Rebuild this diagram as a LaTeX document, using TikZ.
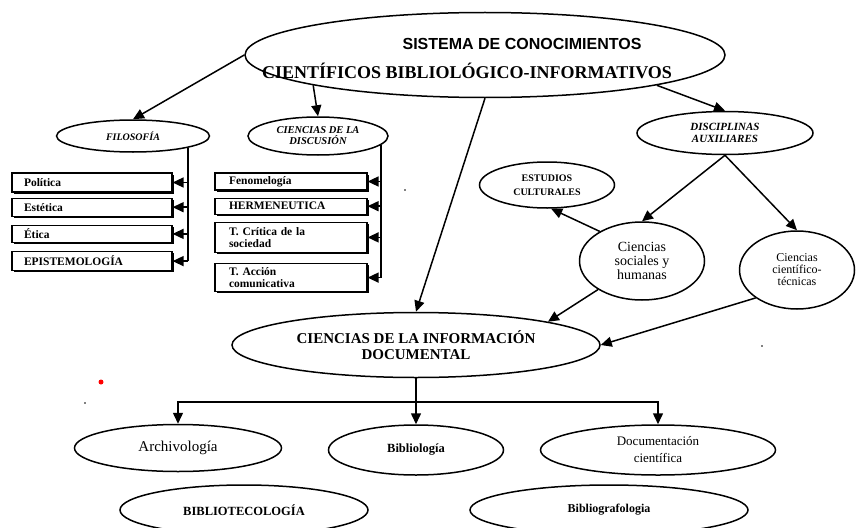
\documentclass[tikz,border=0pt]{standalone}
\usepackage{fontspec}
\setmainfont{Liberation Serif}
\setsansfont{Liberation Sans}
\usetikzlibrary{arrows.meta, shapes.geometric, positioning, shadows}
\tikzset{%
  >={Triangle[width=10pt,length=11pt]},
  % Specifications for style of nodes:
        oval/.style = {ellipse, draw=black, line width=1.5pt,
                           inner sep=0pt, align=center},
        box/.style = {rectangle, draw=black, line width=1.2pt, fill=white,
                           align=left, inner ysep=0pt, minimum height=18pt,
                           font=\fontsize{11.5}{12}\selectfont\bfseries,
                           drop shadow={shadow xshift=1.5pt, shadow yshift=-1.5pt,
                                        opacity=1, fill=black}},
        lbox/.style = {box, inner xsep=12pt, text width=136pt},
        mbox/.style = {box, inner xsep=14pt, text width=124pt},
        title/.style = {inner sep=0pt}
}
\newcommand{\sociales}{Ciencias\\sociales y\\humanas}
\newcommand{\tecnicas}{Ciencias\\científico-\\técnicas}
\newcommand{\informacion}{CIENCIAS DE LA INFORMACIÓN\\DOCUMENTAL}

\begin{document}
\begin{tikzpicture}[x=1pt, y=-1pt, line width=1.5pt, node distance=6pt]
  \useasboundingbox (0,0) rectangle (856,527);
  % Specification of nodes (position, etc.)
    \node (sistema)  [oval, minimum width=480pt, minimum height=85pt] at (485,55) {};
    \node (sistemaA) [title, font=\fontsize{16}{18}\selectfont\sffamily\bfseries]
                     at (522,44) {SISTEMA DE CONOCIMIENTOS};
    \node (sistemaB) [title, font=\fontsize{18}{20}\selectfont\bfseries]
                     at (467,71) {CIENTÍFICOS BIBLIOLÓGICO-INFORMATIVOS};
    \node (filosofia)  [oval, minimum width=153pt, minimum height=32pt,
                        font=\fontsize{10}{11}\selectfont\bfseries\itshape]
                       at (133,136) {FILOSOFÍA};
    \node (discusion)  [oval, minimum width=140pt, minimum height=38pt,
                        font=\fontsize{10.5}{11}\selectfont\bfseries\itshape]
                       at (318,136) {CIENCIAS DE LA\\DISCUSIÓN};
    \node (auxiliares) [oval, minimum width=176pt, minimum height=43pt,
                        font=\fontsize{11}{12}\selectfont\bfseries\itshape]
                       at (725,133) {DISCIPLINAS\\AUXILIARES};
    \node (culturales) [oval, minimum width=135pt, minimum height=46pt,
                        font=\fontsize{10}{14}\selectfont\bfseries]
                       at (547,185) {ESTUDIOS\\CULTURALES};
    \node (sociales)   [oval, minimum width=125pt, minimum height=78pt,
                        font=\fontsize{14}{14}\selectfont]
                       at (642,261) {\sociales};
    \node (tecnicas)   [oval, minimum width=115pt, minimum height=78pt,
                        font=\fontsize{12}{12}\selectfont]
                       at (797,270) {\tecnicas};
    \node (informacion) [oval, minimum width=368pt, minimum height=65pt,
                        font=\fontsize{15}{16}\selectfont\bfseries]
                       at (416,345) {\informacion};
    \node (archivo)    [oval, minimum width=207pt, minimum height=47pt,
                        font=\fontsize{15}{17}\selectfont]
                       at (178,448) {Archivología};
    \node (biblio)     [oval, minimum width=175pt, minimum height=50pt,
                        font=\fontsize{12.5}{14}\selectfont\bfseries]
                       at (416,450) {Bibliología};
    \node (documenta)  [oval, minimum width=235pt, minimum height=50pt,
                        font=\fontsize{13}{17}\selectfont]
                       at (658,450) {Documentación\\científica};
    \node (bibliotec)  [oval, minimum width=248pt, minimum height=50pt,
                        font=\fontsize{12.5}{14}\selectfont\bfseries]
                       at (244,510) {BIBLIOTECOLOGÍA};
    \node (bibliograf) [oval, minimum width=278pt, minimum height=50pt,
                        font=\fontsize{12}{14}\selectfont\bfseries]
                       at (609,510) {Bibliografologia};

    \node (politica) [lbox, minimum height=19pt] at (92,182.5) {Política};
    \node (estetica) [lbox, below=5pt of politica] {Estética};
    \node (etica)    [lbox, below=8pt of estetica, minimum height=17pt] {Ética};
    \node (episte)   [lbox, below=8pt of etica, minimum height=19pt] {EPISTEMOLOGÍA};

    \node (fenom)   [mbox, minimum height=17pt] at (291,181.5) {Fenomelogía};
    \node (herme)   [mbox, below=7pt of fenom, minimum height=16pt] {HERMENEUTICA};
    \node (critica) [mbox, below=7pt of herme, minimum height=30pt]
                    {T. Crítica de la\\sociedad};
    \node (accion)  [mbox, below=10pt of critica, minimum height=28pt]
                    {T. Acción\\comunicativa};

  % Specification of lines between nodes specified above
  \draw[->]      (sistema.west) -- (filosofia.north);
  \draw[->]      (sistema.190) -- (discusion.north);
  \draw[->]      (sistema.south) -- (informacion.north);
  \draw[->]      (sistema.-10) -- (auxiliares.north);
  \draw[->]      (auxiliares.south) -- (sociales.north);
  \draw[->]      (auxiliares.south) -- (tecnicas.north);
  \draw[->]      (sociales.145) -- (culturales.-80);
  \draw[->]      (sociales.213) -- (informacion.10);
  \draw[->]      (tecnicas.214) -- (informacion.east);

  \draw          (filosofia.-12) -- (filosofia.-12 |- episte.east);
  \foreach \n in {politica, estetica, etica, episte}
    \draw[->]    (filosofia.-12 |- \n.east) -- (\n.east);
  \draw          (discusion.-8) -- (discusion.-8 |- accion.east);
  \foreach \n in {fenom, herme, critica, accion}
    \draw[->]    (discusion.-8 |- \n.east) -- (\n.east);

  \coordinate (bar) at (416,402);
  \draw          (informacion.south) -- (bar);
  \draw[->]      (bar) -- (biblio.north);
  \draw[->]      (bar) -| (archivo.north);
  \draw[->]      (bar) -| (documenta.north);

  % stray marks of the scan
  \fill[red] (101,382) circle (2.5pt);
  \fill (85,403) circle (0.9pt);
  \fill (405,190) circle (0.9pt);
  \fill (762,346) circle (0.9pt);
\end{tikzpicture}
\end{document}
